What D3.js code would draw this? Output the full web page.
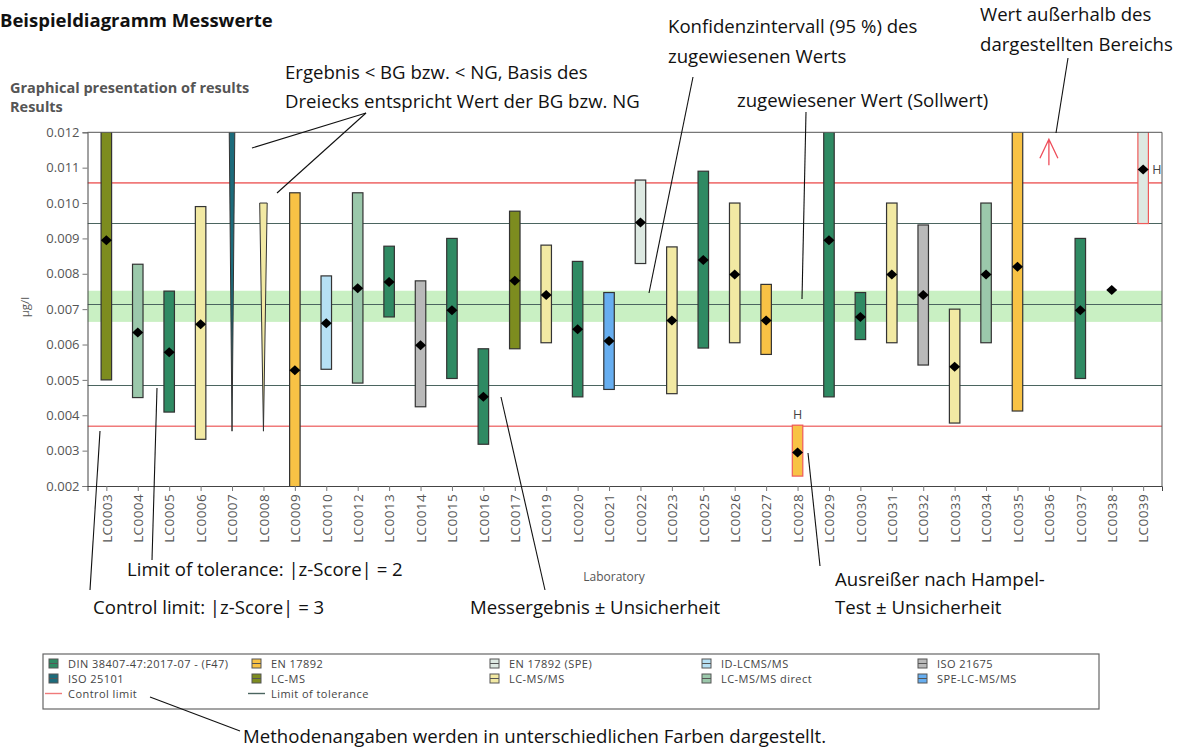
<!DOCTYPE html>
<html><head><meta charset="utf-8">
<script src="https://cdn.jsdelivr.net/npm/d3@7"></script>
<style>
body{margin:0;background:#fff;}
svg text{font-family:"Open Sans",sans-serif;}
</style>
</head><body>
<svg id="c" width="1179" height="749"></svg>
<script>
// ---------- data ----------
const labs = ["LC0003","LC0004","LC0005","LC0006","LC0007","LC0008","LC0009","LC0010","LC0012","LC0013","LC0014","LC0015","LC0016","LC0017","LC0019","LC0020","LC0021","LC0022","LC0023","LC0025","LC0026","LC0027","LC0028","LC0029","LC0030","LC0031","LC0032","LC0033","LC0034","LC0035","LC0036","LC0037","LC0038","LC0039"];
const methods = ["LC-MS","LC-MS/MS direct","DIN 38407-47:2017-07 - (F47)","LC-MS/MS","ISO 25101","LC-MS/MS","EN 17892","ID-LCMS/MS","LC-MS/MS direct","DIN 38407-47:2017-07 - (F47)","ISO 21675","DIN 38407-47:2017-07 - (F47)","DIN 38407-47:2017-07 - (F47)","LC-MS","LC-MS/MS","DIN 38407-47:2017-07 - (F47)","SPE-LC-MS/MS","EN 17892 (SPE)","LC-MS/MS","DIN 38407-47:2017-07 - (F47)","LC-MS/MS","EN 17892","EN 17892","DIN 38407-47:2017-07 - (F47)","DIN 38407-47:2017-07 - (F47)","LC-MS/MS","ISO 21675","LC-MS/MS","LC-MS/MS direct","EN 17892",null,"DIN 38407-47:2017-07 - (F47)",null,"EN 17892 (SPE)"];
// measured result (for "<" results: the BG/NG value = base of triangle)
const results = [0.00895,0.00634,0.00578,0.00657,0.0150,0.0100,0.00527,0.0066,0.00759,0.00777,0.00598,0.00697,0.00452,0.0078,0.0074,0.00643,0.0061,0.00945,0.00668,0.00839,0.00798,0.00668,0.00295,0.00895,0.00678,0.00798,0.0074,0.00537,0.00798,0.0082,0.0140,0.00697,0.00754,0.01095];
const lower   = [0.0050,0.0045,0.00409,0.00332,0.00355,0.00355,0.00025,0.0053,0.00491,0.00678,0.00424,0.00504,0.00318,0.00588,0.00605,0.00452,0.00473,0.00829,0.00461,0.0059,0.00605,0.00572,0.00228,0.00452,0.00614,0.00605,0.00542,0.00378,0.00605,0.00412,null,0.00504,null,0.00942];
const upper   = [0.0129,0.00827,0.00751,0.0099,null,null,0.01029,0.00794,0.01029,0.00878,0.0078,0.0090,0.00588,0.00977,0.00881,0.00835,0.00747,0.01065,0.00876,0.0109,0.0100,0.0077,0.00372,0.01338,0.00747,0.0100,0.00938,0.0070,0.0100,0.01228,null,0.0090,null,0.01248];
const kinds   = ["bar","bar","bar","bar","lt","lt","bar","bar","bar","bar","bar","bar","bar","bar","bar","bar","bar","bar","bar","bar","bar","bar","bar","bar","bar","bar","bar","bar","bar","bar","above","bar","point","bar"];
const hampelOutliers = ["LC0028","LC0039"];

const yTicks = [0.002,0.003,0.004,0.005,0.006,0.007,0.008,0.009,0.010,0.011,0.012];
const assignedValue = 0.00713;
const ciAssigned = [0.00664, 0.00752];
const tolerance = [0.00484, 0.00942];
const controlLimits = [0.00369, 0.01057];

const methodNames = ["DIN 38407-47:2017-07 - (F47)","EN 17892","EN 17892 (SPE)","ID-LCMS/MS","ISO 21675","ISO 25101","LC-MS","LC-MS/MS","LC-MS/MS direct","SPE-LC-MS/MS"];
const methodPalette = ["#2f8a63","#f8c245","#dde9e2","#b6e0f4","#b9b9b9","#1c6b7b","#7d8c1f","#f2e9a3","#9bc8ab","#67aef0"];

// ---------- drawing ----------
(function(){
const svg = d3.select("#c");
const color = d3.scaleOrdinal().domain(methodNames).range(methodPalette);
const pL = 87.5, pR = 1162, pT = 132.3, pB = 486;
const x = d3.scalePoint().domain(labs).range([pL, pR]).padding(0.6);
const y = d3.scaleLinear().domain([0.002, 0.012]).range([pB, pT]);
const barW = 10.5;

svg.append("defs").append("clipPath").attr("id","plot")
  .append("rect").attr("x",pL).attr("y",pT).attr("width",pR-pL).attr("height",pB-pT);

// title
svg.append("text").attr("x",0).attr("y",27).attr("font-size",18.5).attr("font-weight",700)
  .attr("fill","#111").text("Beispieldiagramm Messwerte");
svg.append("text").attr("x",10).attr("y",93).attr("font-size",14.5).attr("font-weight",700)
  .attr("fill","#555").text("Graphical presentation of results");
svg.append("text").attr("x",10).attr("y",112).attr("font-size",14.5).attr("font-weight",700)
  .attr("fill","#555").text("Results");

const plot = svg.append("g").attr("clip-path","url(#plot)");

plot.append("rect").attr("x",pL).attr("width",pR-pL)
  .attr("y",y(ciAssigned[1])).attr("height",y(ciAssigned[0])-y(ciAssigned[1]))
  .attr("fill","#c9f0c3");

const hline = (v, col, w) => plot.append("line").attr("x1",pL).attr("x2",pR)
  .attr("y1",y(v)).attr("y2",y(v)).attr("stroke",col).attr("stroke-width",w);
controlLimits.forEach(v => hline(v, "#f07a7a", 1.6));
tolerance.forEach(v => hline(v, "#4b6560", 1.1));
hline(assignedValue, "#4b6560", 1.1);

const data = labs.map((l,i)=>({lab:l, method:methods[i], r:results[i], lo:lower[i], hi:upper[i], kind:kinds[i], out:hampelOutliers.includes(l)}));

plot.selectAll("rect.bar").data(data.filter(d=>d.kind==="bar")).join("rect")
  .attr("class","bar")
  .attr("x",d=>x(d.lab)-barW/2).attr("width",barW)
  .attr("y",d=>y(d.hi)).attr("height",d=>y(d.lo)-y(d.hi))
  .attr("fill",d=>color(d.method))
  .attr("stroke",d=>d.out?"#ee5a5a":"#333").attr("stroke-width",1.2);

const triW = 7.5;
plot.selectAll("path.tri").data(data.filter(d=>d.kind==="lt")).join("path")
  .attr("class","tri")
  .attr("d",d=>`M${x(d.lab)-triW/2},${y(d.r)}L${x(d.lab)+triW/2},${y(d.r)}L${x(d.lab)},${y(d.lo)}Z`)
  .attr("fill",d=>color(d.method)).attr("stroke","#333").attr("stroke-width",1);

plot.selectAll("path.dia").data(data.filter(d=>d.kind==="bar"||d.kind==="point")).join("path")
  .attr("class","dia")
  .attr("transform",d=>`translate(${x(d.lab)},${y(d.r)})`)
  .attr("d","M0,-5L5.5,0L0,5L-5.5,0Z").attr("fill","#000");

data.filter(d=>d.kind==="above").forEach(d=>{
  const cx = x(d.lab), y0 = y(0.012);
  svg.append("path").attr("d",`M${cx},${y0+33}L${cx},${y0+7}M${cx-9},${y0+26}L${cx},${y0+7}L${cx+9},${y0+26}`)
    .attr("fill","none").attr("stroke","#ee4d5a").attr("stroke-width",1.3);
});

data.filter(d=>d.out).forEach(d=>{
  if (d.hi < 0.012) {
    svg.append("text").attr("x",x(d.lab)).attr("y",y(d.hi)-6).attr("text-anchor","middle")
      .attr("font-size",12.5).attr("fill","#444").text("H");
  } else {
    svg.append("text").attr("x",x(d.lab)+9).attr("y",y(d.r)+4.5)
      .attr("font-size",12.5).attr("fill","#444").text("H");
  }
});

svg.append("line").attr("x1",pL).attr("x2",pR).attr("y1",pT).attr("y2",pT).attr("stroke","#555");
svg.append("line").attr("x1",pR).attr("x2",pR).attr("y1",pT).attr("y2",pB).attr("stroke","#555");

const yAxis = svg.append("g").attr("transform",`translate(${pL},0)`)
  .call(d3.axisLeft(y).tickValues(yTicks).tickFormat(d3.format(".3f")).tickSize(5).tickPadding(3));
const xAxis = svg.append("g").attr("transform",`translate(0,${pB})`)
  .call(d3.axisBottom(x).tickSize(5));
[yAxis,xAxis].forEach(a=>{
  a.select(".domain").attr("stroke","#444");
  a.selectAll(".tick line").attr("stroke","#777");
  a.selectAll("text").attr("font-family","Open Sans").attr("fill","#555").attr("font-size",13);
});
xAxis.selectAll("text").attr("transform","rotate(-90)").attr("text-anchor","end")
  .attr("x",-8).attr("y",0).attr("dy","0.35em").attr("font-size",13.5).attr("letter-spacing","0.4");

svg.append("text").attr("transform","translate(29,307) rotate(-90)").attr("text-anchor","middle")
  .attr("font-size",11.5).attr("fill","#555").text("µg/l");
svg.append("text").attr("x",614).attr("y",581).attr("text-anchor","middle")
  .attr("font-size",12).attr("fill","#555").text("Laboratory");

const lg = svg.append("g");
lg.append("rect").attr("x",43).attr("y",654).attr("width",1056).attr("height",55)
  .attr("fill","#fff").attr("stroke","#666").attr("stroke-width",1.2);
const legCols = [49, 252, 490, 702, 918];
const legRows = [663.5, 678.5, 693.5];
methodNames.forEach((m,i)=>{
  const col = i % 5, row = Math.floor(i/5);
  const gx = legCols[col], gy = legRows[row];
  lg.append("rect").attr("x",gx).attr("y",gy-4.5).attr("width",9).attr("height",9)
    .attr("fill",color(m)).attr("stroke","#555").attr("stroke-width",1);
  lg.append("line").attr("x1",gx).attr("x2",gx+9).attr("y1",gy).attr("y2",gy).attr("stroke","#555");
  lg.append("text").attr("x",gx+19).attr("y",gy+4).attr("font-size",11).attr("letter-spacing","0.45")
    .attr("fill","#444").text(m);
});
[["Control limit","#f07a7a"],["Limit of tolerance","#4b6560"]].forEach((e,i)=>{
  const gx = legCols[i], gy = legRows[2];
  lg.append("line").attr("x1",gx-4).attr("x2",gx+13).attr("y1",gy).attr("y2",gy).attr("stroke",e[1]).attr("stroke-width",1.4);
  lg.append("text").attr("x",gx+19).attr("y",gy+4).attr("font-size",11).attr("letter-spacing","0.45")
    .attr("fill","#444").text(e[0]);
});

const ann = svg.append("g").attr("font-size",18.6).attr("fill","#111");
const annText = (tx,ty,s)=>ann.append("text").attr("x",tx).attr("y",ty).text(s);
const annLine = (x1,y1,x2,y2)=>ann.append("line").attr("x1",x1).attr("y1",y1).attr("x2",x2).attr("y2",y2).attr("stroke","#111").attr("stroke-width",1.1);
annText(285,79,"Ergebnis < BG bzw. < NG, Basis des");
annText(285,108,"Dreiecks entspricht Wert der BG bzw. NG");
annText(668,33,"Konfidenzintervall (95 %) des");
annText(668,63,"zugewiesenen Werts");
annText(980,21,"Wert außerhalb des");
annText(980,51,"dargestellten Bereichs");
annText(737,107,"zugewiesener Wert (Sollwert)");
annText(127,576,"Limit of tolerance: |z-Score| = 2");
annText(93,614,"Control limit: |z-Score| = 3");
annText(470,614,"Messergebnis ± Unsicherheit");
annText(835,586,"Ausreißer nach Hampel-");
annText(835,614,"Test ± Unsicherheit");
annText(243,743,"Methodenangaben werden in unterschiedlichen Farben dargestellt.");
annLine(366,113,252,148);
annLine(366,113,277,193);
annLine(693,77,649,293);
annLine(806,112,802,299);
annLine(1068,58,1056,133);
annLine(157,388,152,560);
annLine(100,431,90,590);
annLine(501,397,545,590);
annLine(808,453,820,566);
annLine(150,697,240,731);
})();
</script>
</body></html>
